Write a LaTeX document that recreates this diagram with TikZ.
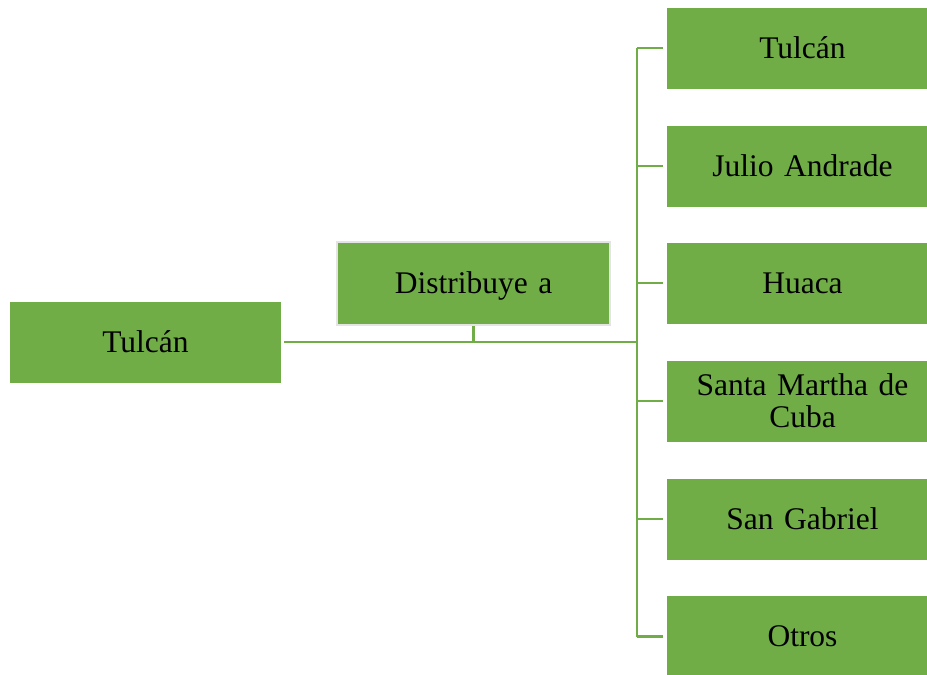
\documentclass[tikz,border=0pt]{standalone}
\usepackage{fontspec}
\setmainfont{Liberation Serif}
\definecolor{leaf}{HTML}{70AD47}
\definecolor{rim}{HTML}{E4E4E4}
\begin{document}
\begin{tikzpicture}[x=1pt,y=-1pt,
  box/.style={fill=leaf,draw=none,minimum width=271pt,minimum height=81pt,
    inner sep=0pt,align=center,text width=250pt,
    font=\fontsize{31.5}{32}\selectfont},
  link/.style={draw=leaf,line width=2.8pt}]
\useasboundingbox (0,0) rectangle (927,675);
\clip (0,0) rectangle (927,675);
% source and label
\node[box] (src) at (145.5,342) {Tulcán};
\node[box,draw=rim,line width=2pt,minimum width=273pt,minimum height=83pt] (dist) at (473.5,283) {\raisebox{-3pt}[\height][\depth]{Distribuye a}};
% destinations
\node[box] (d1) at (802.5,48) {Tulcán};
\node[box] (d2) at (802.5,166) {Julio Andrade};
\node[box] (d3) at (802.5,283) {Huaca};
\node[box] (d4) at (802.5,401) {Santa Martha de\\Cuba};
\node[box] (d5) at (802.5,519) {San Gabriel};
\node[box] (d6) at (802.5,636.5) {Otros};
% trunk
\coordinate (hub) at (637,342);
\draw[link] ([xshift=3pt]src.east) -- (hub);
\draw[link] (dist.south) -- (dist.south |- hub);
\draw[link] (hub |- d1.west) -- (hub |- d6.west);
\foreach \n in {d1,d2,d3,d4,d5,d6}
  \draw[link] (hub |- \n.west) -- ([xshift=-4pt]\n.west);
\end{tikzpicture}
\end{document}
